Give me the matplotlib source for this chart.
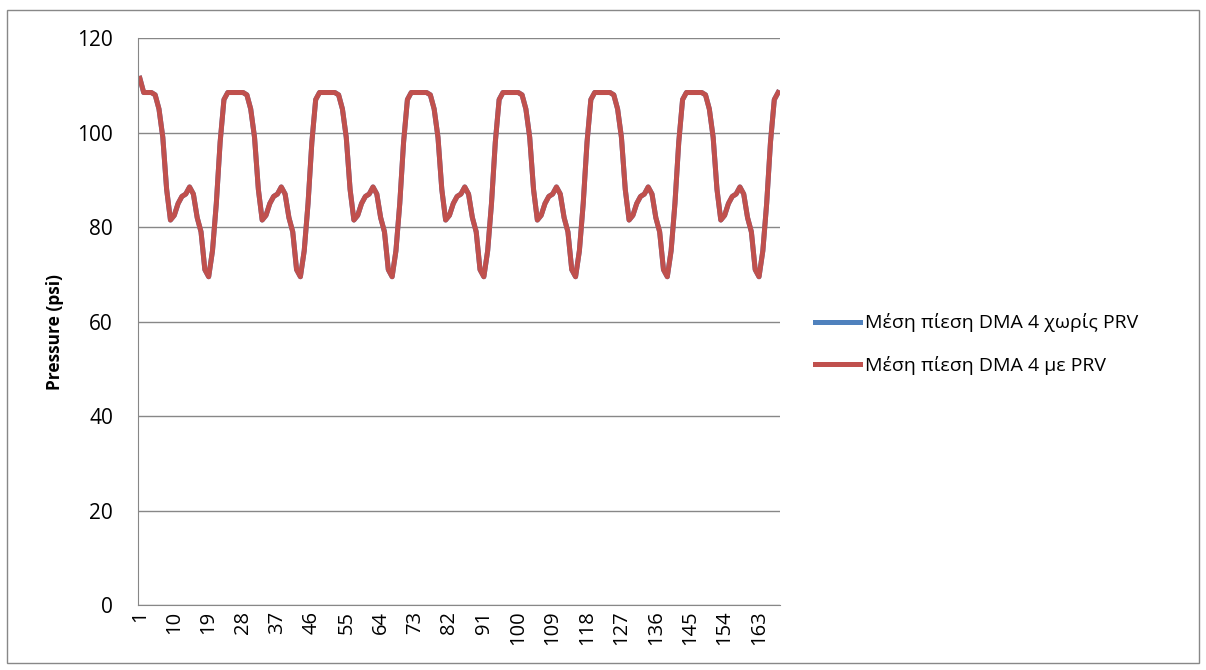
import numpy as np
import matplotlib
matplotlib.use("Agg")
from matplotlib import pyplot as plt

plt.rcParams['font.family'] = ['Open Sans', 'DejaVu Sans']

# one day of average pressure (psi), hours 1..24
day = [108.5, 108.5, 108.5, 108.5, 108, 105, 99, 88, 81.5, 82.5, 85, 86.5,
       87, 88.5, 87, 82, 79, 71, 69.5, 75, 85, 98, 107, 108.5]
n_days = 7
hours = np.arange(1, 24 * n_days + 1)

with_prv = np.array(day * n_days)
with_prv[0] = 111.5
without_prv = with_prv.copy()

xticks = np.arange(1, 24 * n_days + 1, 9)
yticks = [0, 20, 40, 60, 80, 100, 120]

label_without = 'Μέση πίεση DMA 4 χωρίς PRV'
label_with = 'Μέση πίεση DMA 4 με PRV'

fig = plt.figure(figsize=(12.06, 6.70), dpi=100)
# chart area border
fig.patches.append(plt.Rectangle((0.006, 0.01), 0.988, 0.975, transform=fig.transFigure,
                                 fill=False, edgecolor='#888888', linewidth=1))
ax = fig.add_axes([0.1144, 0.097, 0.5324, 0.846])

ax.plot(hours, without_prv, color='#4F81BD', linewidth=3.6, label=label_without)
ax.plot(hours, with_prv, color='#C0504D', linewidth=3.6, label=label_with)

ax.set_ylim(0, 120)
ax.set_xlim(0.5, 168.5)
ax.set_yticks(yticks)
ax.set_xticks(xticks)
ax.set_xticklabels([str(t) for t in xticks], rotation=90)
ax.tick_params(axis='y', length=0, labelsize=15, pad=18)
ax.tick_params(axis='x', length=0, labelsize=14.5, pad=4)
ax.grid(axis='y', color='#878787', linewidth=1)
ax.set_axisbelow(True)
for s in ['top', 'right']:
    ax.spines[s].set_visible(False)
for s in ['left', 'bottom']:
    ax.spines[s].set_color('#878787')
fig.text(55 / 1206, 0.505, 'Pressure (psi)', fontweight='bold', fontsize=12.5,
         rotation=90, ha='center', va='center')

fig.legend(loc='center left', bbox_to_anchor=(0.676, 0.4866), frameon=False,
           fontsize=14, handlelength=2.3, handletextpad=0.25, labelspacing=1.2,
           borderpad=0, borderaxespad=0)

fig.savefig('out.png', dpi=100)
